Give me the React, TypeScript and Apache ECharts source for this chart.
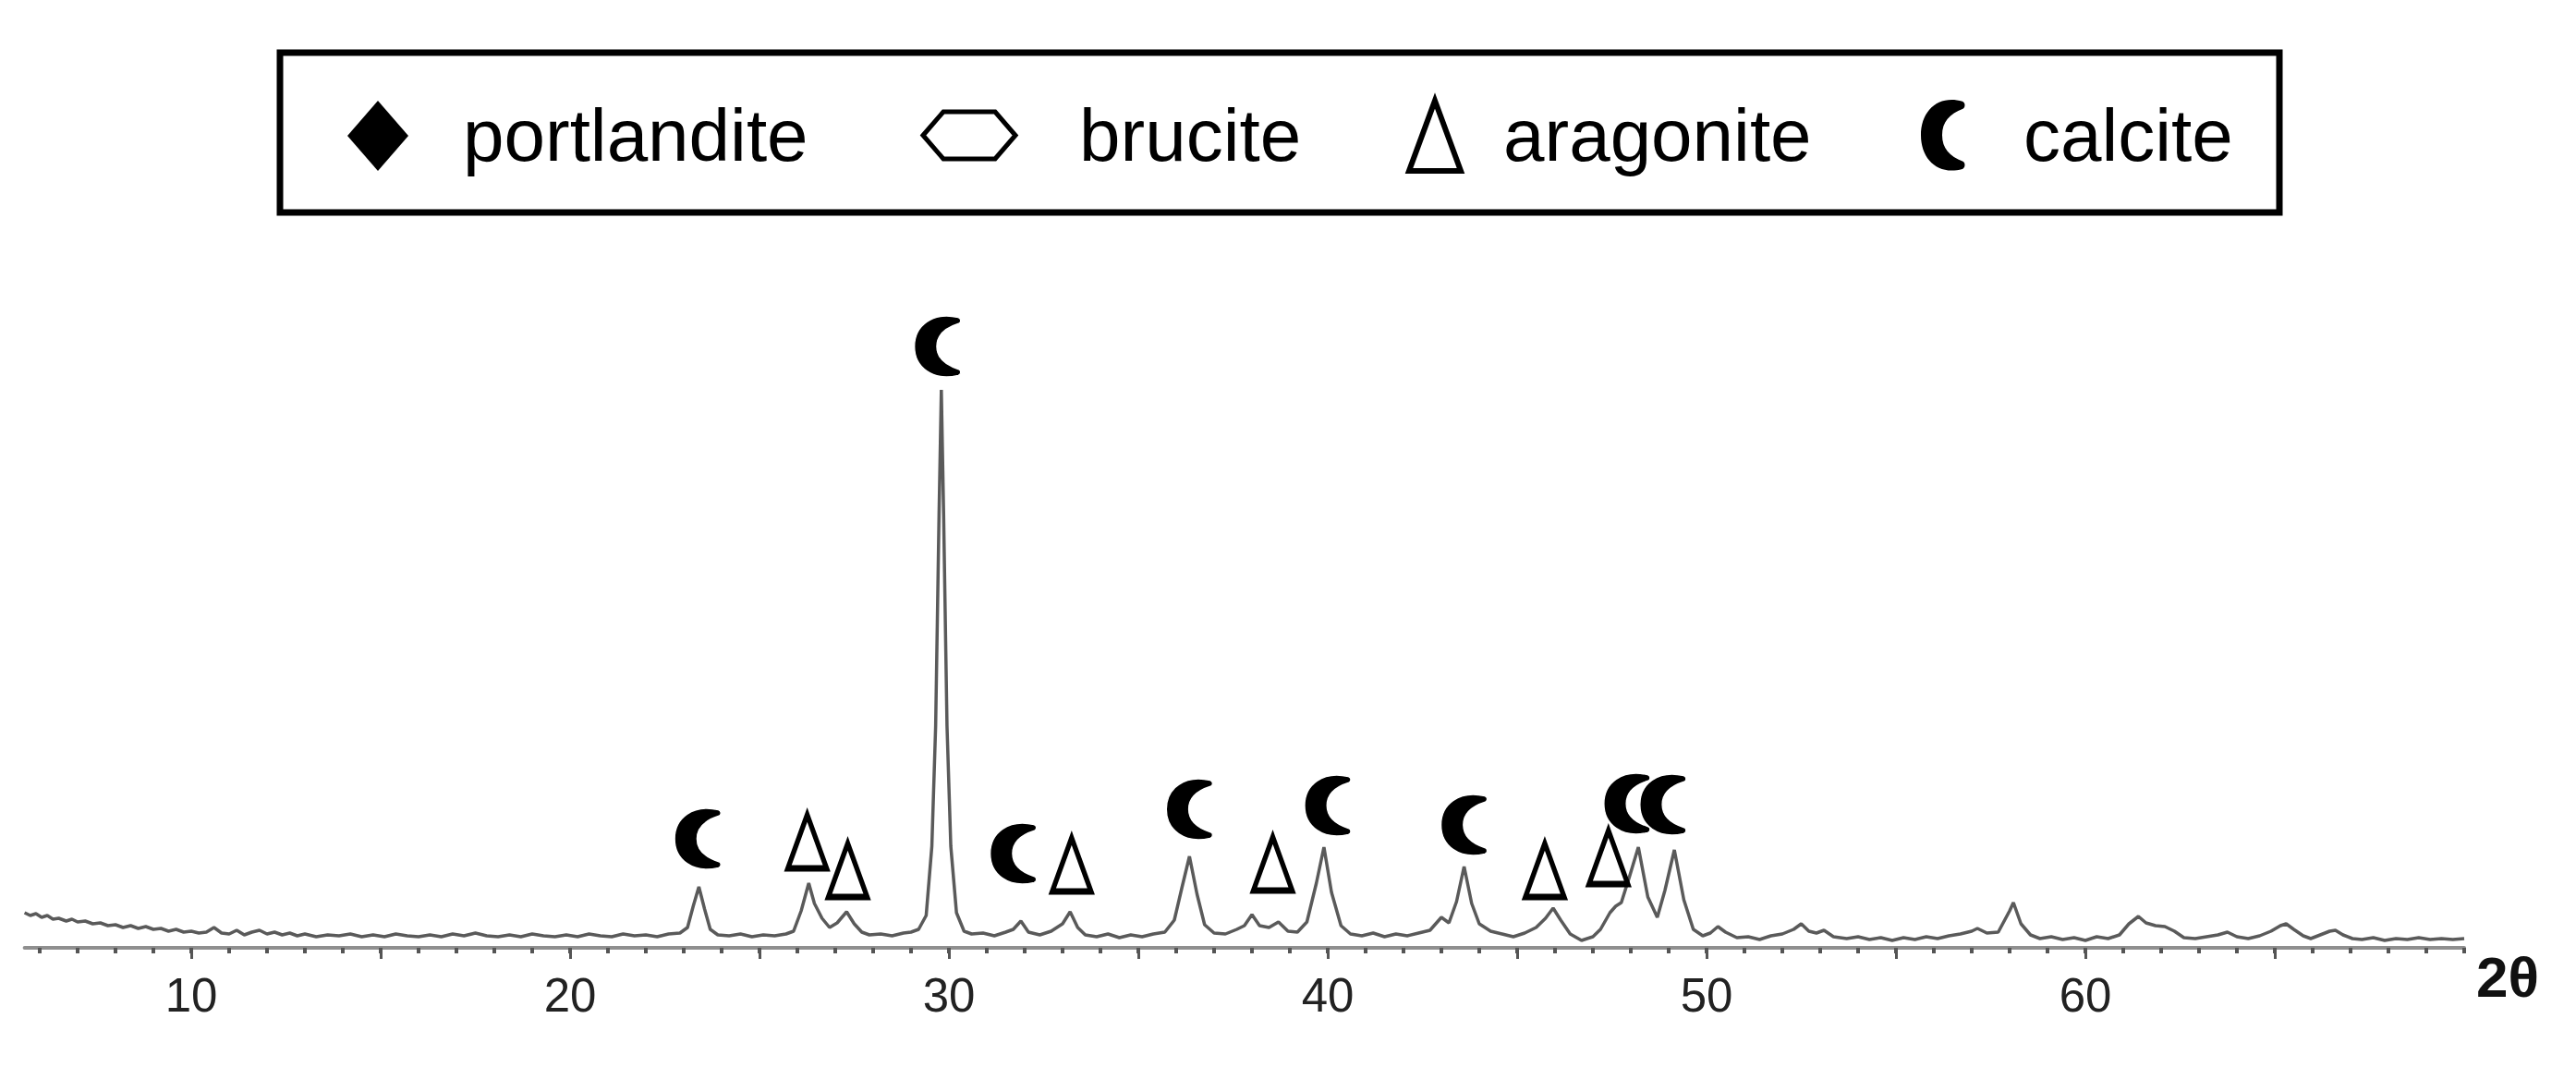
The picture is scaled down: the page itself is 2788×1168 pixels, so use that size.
import React, { useEffect, useRef } from "react";
import * as echarts from "echarts";

// XRD pattern [2θ (deg), intensity (a.u.)]
const patternLow: number[][] = [
  [5.6, 38], [5.75, 35], [5.9, 37], [6.05, 33], [6.2, 35], [6.35, 31], [6.5, 32], [6.7, 29], [6.85, 31],
  [7.0, 28], [7.2, 29], [7.4, 26], [7.6, 27], [7.8, 24], [8.0, 25], [8.2, 22], [8.4, 24], [8.6, 21],
  [8.8, 23], [9.0, 20], [9.2, 21], [9.4, 18], [9.6, 20], [9.8, 17], [10.0, 18], [10.2, 16], [10.4, 17],
  [10.6, 22], [10.8, 16], [11.0, 15], [11.2, 19], [11.4, 14], [11.6, 17], [11.8, 19], [12.0, 15],
  [12.2, 17], [12.4, 14], [12.6, 16], [12.8, 13], [13.0, 15], [13.3, 12], [13.6, 14], [13.9, 13],
  [14.2, 15], [14.5, 12], [14.8, 14], [15.1, 12], [15.4, 15], [15.7, 13], [16.0, 12], [16.3, 14],
  [16.6, 12], [16.9, 15], [17.2, 13], [17.5, 16], [17.8, 13], [18.1, 12], [18.4, 14], [18.7, 12],
  [19.0, 15], [19.3, 13], [19.6, 12], [19.9, 14], [20.2, 12], [20.5, 15], [20.8, 13], [21.1, 12],
  [21.4, 15], [21.7, 13], [22.0, 14], [22.3, 12], [22.6, 15], [22.9, 16],
];
const patternMid: number[][] = [
  [23.1, 22], [23.25, 45], [23.4, 66], [23.55, 42], [23.7, 20], [23.9, 14], [24.2, 13], [24.5, 15],
  [24.8, 12], [25.1, 14], [25.4, 13], [25.7, 15], [25.9, 18], [26.1, 40], [26.3, 70], [26.45, 48],
  [26.65, 32], [26.85, 22], [27.05, 27], [27.3, 39], [27.5, 26], [27.7, 17], [27.9, 14], [28.2, 15],
  [28.5, 13], [28.8, 16], [29.0, 17], [29.2, 20], [29.4, 35], [29.55, 110], [29.65, 240], [29.74, 470],
  [29.8, 604], [29.86, 470], [29.95, 240], [30.05, 110], [30.2, 38], [30.4, 18], [30.6, 15], [30.9, 16],
  [31.2, 13], [31.5, 17], [31.7, 20], [31.9, 29], [32.1, 17], [32.4, 14], [32.7, 18], [33.0, 26],
  [33.2, 39], [33.4, 22], [33.6, 14], [33.9, 12], [34.2, 15], [34.5, 11], [34.8, 14], [35.1, 12],
  [35.4, 15], [35.7, 17], [35.95, 30], [36.15, 65], [36.35, 99], [36.55, 58], [36.75, 25], [37.0, 16],
  [37.3, 15], [37.6, 20], [37.8, 24], [38.0, 36], [38.2, 24], [38.45, 22], [38.7, 28], [38.95, 18],
  [39.2, 17], [39.45, 28], [39.7, 70], [39.9, 109], [40.1, 60], [40.35, 24], [40.6, 15], [40.9, 13],
  [41.2, 16], [41.5, 12], [41.8, 15], [42.1, 13], [42.4, 16], [42.7, 19], [43.0, 33], [43.2, 27],
  [43.4, 50], [43.6, 88], [43.8, 48], [44.0, 26], [44.3, 18], [44.6, 15], [44.9, 12], [45.2, 16],
  [45.5, 22], [45.75, 32], [45.95, 43], [46.15, 30], [46.4, 15], [46.7, 8], [47.0, 12], [47.2, 20],
  [47.45, 38], [47.6, 45], [47.75, 49], [47.95, 75], [48.2, 109], [48.45, 55], [48.7, 33], [48.9, 62],
  [49.15, 106], [49.4, 52], [49.65, 20], [49.9, 13], [50.1, 16], [50.3, 23], [50.5, 17],
];
const patternHigh: number[][] = [
  [50.8, 11], [51.1, 12], [51.4, 9], [51.7, 13], [52.0, 15], [52.3, 20], [52.5, 26], [52.7, 18],
  [52.9, 16], [53.1, 19], [53.35, 12], [53.7, 10], [54.0, 12], [54.3, 9], [54.6, 11], [54.9, 8],
  [55.2, 11], [55.5, 9], [55.8, 12], [56.1, 10], [56.4, 13], [56.7, 15], [57.0, 18], [57.15, 21],
  [57.4, 16], [57.7, 17], [58.0, 40], [58.1, 49], [58.3, 26], [58.55, 14], [58.8, 10], [59.1, 12],
  [59.4, 9], [59.7, 11], [60.0, 8], [60.3, 12], [60.6, 10], [60.9, 14], [61.15, 26], [61.4, 34],
  [61.6, 27], [61.85, 24], [62.1, 23], [62.35, 18], [62.6, 11], [62.9, 10], [63.2, 12], [63.5, 14],
  [63.75, 17], [64.0, 12], [64.3, 10], [64.6, 13], [64.9, 18], [65.15, 24], [65.3, 26], [65.5, 20],
  [65.75, 13], [65.95, 10], [66.2, 14], [66.45, 18], [66.6, 19], [66.8, 14], [67.05, 10], [67.3, 9],
  [67.6, 11], [67.9, 8], [68.2, 10], [68.5, 9], [68.8, 11], [69.1, 9], [69.4, 10], [69.7, 9], [70.0, 10],
];

// phase markers [2θ, marker height]
const calcitePeaks: number[][] = [
  [23.37, 118], [29.7, 651], [31.7, 102], [36.35, 150], [40.0, 154], [43.6, 133], [47.9, 156], [48.85, 155],
];
const aragonitePeaks: number[][] = [
  [26.26, 115], [27.33, 84], [33.24, 90], [38.55, 91], [45.73, 84], [47.41, 98],
];

const majorTicks = [10, 15, 20, 25, 30, 35, 40, 45, 50, 55, 60, 65];
const tickLabels = [10, 20, 30, 40, 50, 60];
const minorTicks = [
  6, 7, 8, 9, 10, 11, 12, 13, 14, 15, 16, 17, 18, 19, 20, 21, 22, 23, 24, 25, 26, 27, 28, 29, 30,
  31, 32, 33, 34, 35, 36, 37, 38, 39, 40, 41, 42, 43, 44, 45, 46, 47, 48, 49, 50, 51, 52, 53, 54, 55,
  56, 57, 58, 59, 60, 61, 62, 63, 64, 65, 66, 67, 68, 69, 70,
];
const legendNames = ["portlandite", "brucite", "aragonite", "calcite"];
const axisName = "2θ";

const CRESCENT =
  "M92 6C40 -6 2 22 2 65C2 108 40 136 92 124C98 122 99 114 93 111C64 102 48 88 48 65C48 42 64 28 93 19C99 16 98 8 92 6Z";
const TRIANGLE = "M50 0L100 130L0 130Z";

export default function App() {
  const ref = useRef<HTMLDivElement>(null);
  useEffect(() => {
    if (!ref.current) return;
    try {
      echarts.graphic.registerShape("crescent", echarts.graphic.extendPath(CRESCENT, {}));
    } catch (e) {}
    const chart = echarts.init(ref.current, null, { renderer: "svg" });
    const pattern = [...patternLow, ...patternMid, ...patternHigh];
    const font = "Liberation Sans";
    const legendText = (text: string, x: number) => ({
      type: "text",
      style: { text, x, y: 146, fontSize: 80, fontFamily: font, fill: "#000", align: "left", verticalAlign: "middle" },
    });
    chart.setOption({
      animation: false,
      backgroundColor: "#fff",
      grid: { left: 26.6, right: 121, top: 336, bottom: 142 },
      xAxis: [
        {
          type: "value",
          min: 5.6,
          max: 70,
          position: "bottom",
          axisLine: { show: true, onZero: false, lineStyle: { color: "#8f8f8f", width: 4 } },
          axisTick: { show: true, customValues: majorTicks, length: 12, lineStyle: { color: "#555", width: 3 } },
          axisLabel: { show: true, customValues: tickLabels, margin: 26, fontSize: 51, fontFamily: font, color: "#222" },
          splitLine: { show: false },
        },
        {
          type: "value",
          min: 5.6,
          max: 70,
          position: "bottom",
          offset: 0,
          axisLine: { show: false, onZero: false },
          axisTick: { show: true, customValues: minorTicks, length: 6, lineStyle: { color: "#555", width: 4 } },
          axisLabel: { show: false },
          splitLine: { show: false },
        },
      ],
      yAxis: { type: "value", min: 0, max: 690, show: false },
      series: [
        {
          name: "XRD",
          type: "line",
          xAxisIndex: 0,
          data: pattern,
          symbol: "none",
          showSymbol: false,
          lineStyle: { color: "#5a5a5a", width: 3.5 },
          z: 2,
        },
        {
          name: "aragonite",
          type: "scatter",
          xAxisIndex: 0,
          data: aragonitePeaks,
          symbol: "path://" + TRIANGLE,
          symbolSize: [42, 58],
          itemStyle: { color: "rgba(255,255,255,0)", borderColor: "#000", borderWidth: 6, opacity: 1 },
          z: 3,
        },
        {
          name: "calcite",
          type: "scatter",
          xAxisIndex: 0,
          data: calcitePeaks,
          symbol: "path://" + CRESCENT,
          symbolSize: [50, 66],
          itemStyle: { color: "#000", borderColor: "#fff", borderWidth: 1.5, opacity: 1 },
          z: 4,
        },
      ],
      graphic: [
        { type: "rect", shape: { x: 303, y: 57, width: 2164, height: 173 }, style: { fill: "none", stroke: "#000", lineWidth: 7 } },
        { type: "polygon", shape: { points: [[409, 109], [442, 147], [409, 185], [376, 147]] }, style: { fill: "#000" } },
        legendText(legendNames[0], 501),
        {
          type: "polygon",
          shape: { points: [[999, 146.5], [1021, 121], [1077, 121], [1099, 146.5], [1077, 172], [1021, 172]] },
          style: { fill: "none", stroke: "#000", lineWidth: 5 },
        },
        legendText(legendNames[1], 1168),
        {
          type: "polygon",
          shape: { points: [[1553, 109], [1581, 185], [1525, 185]] },
          style: { fill: "none", stroke: "#000", lineWidth: 6 },
        },
        legendText(legendNames[2], 1627),
        { type: "crescent", x: 2078, y: 106, scaleX: 0.5, scaleY: 0.62, style: { fill: "#000" } },
        legendText(legendNames[3], 2190),
        {
          type: "text",
          style: { text: axisName, x: 2680, y: 1057, fontSize: 62, fontWeight: "bold", fontFamily: font, fill: "#111", align: "left", verticalAlign: "middle" },
        },
      ],
    });
    return () => chart.dispose();
  }, []);
  return (
    <div
      ref={ref}
      style={{ position: "fixed", left: 0, top: 0, width: 2788, height: 1168, background: "#fff" }}
    />
  );
}
